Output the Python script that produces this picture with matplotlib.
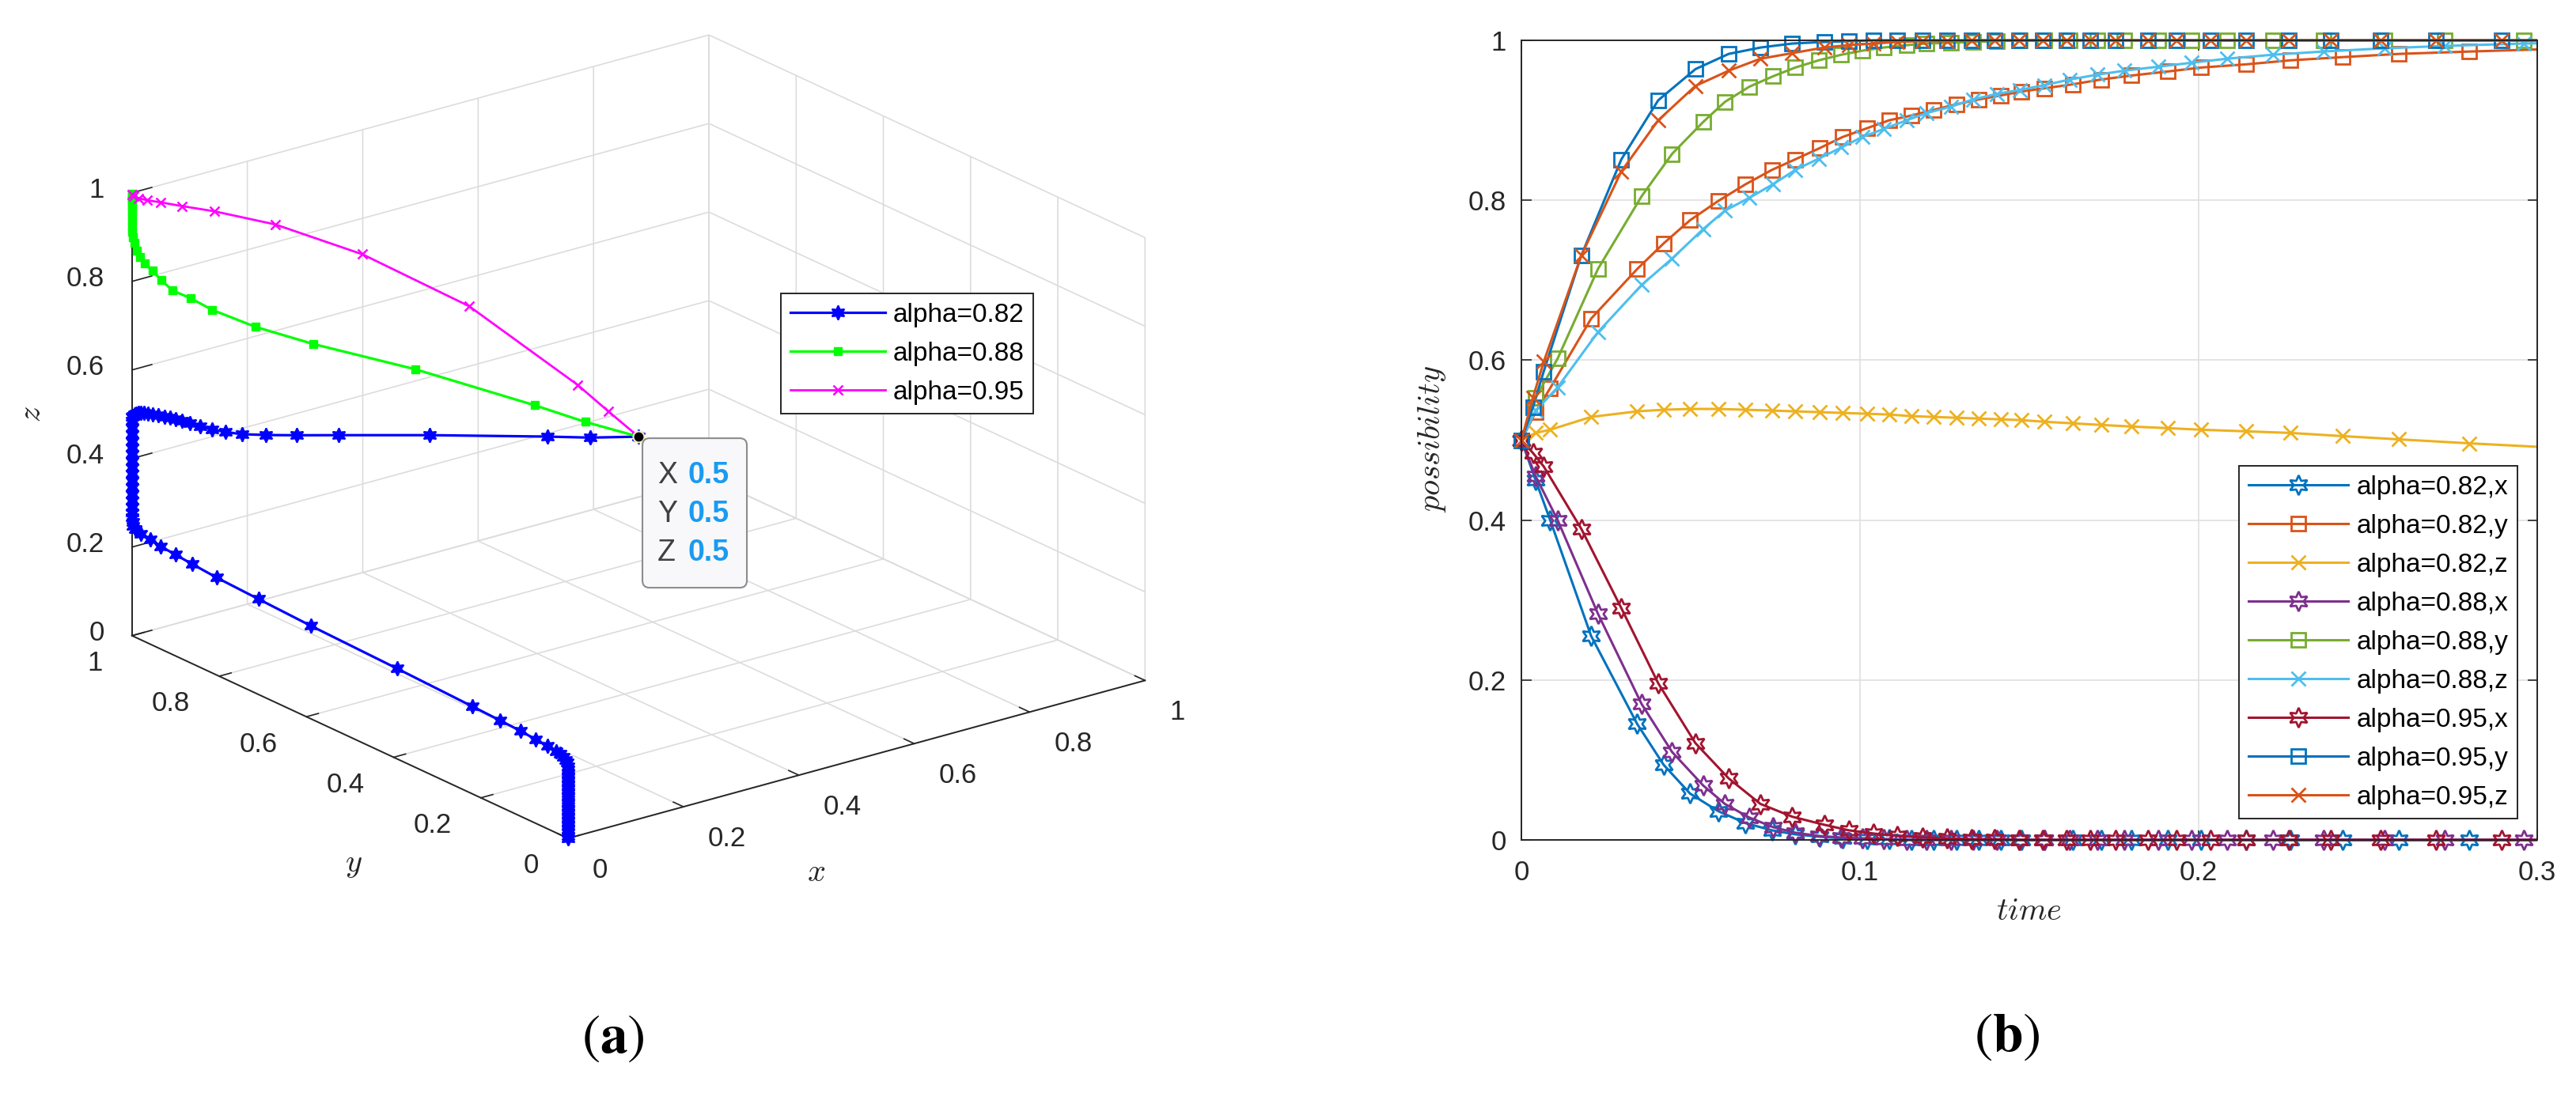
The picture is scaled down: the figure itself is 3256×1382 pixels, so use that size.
import numpy as np
import matplotlib
matplotlib.use("Agg")
import matplotlib.pyplot as plt
from matplotlib.patches import FancyBboxPatch
from matplotlib.transforms import IdentityTransform, Bbox, TransformedBbox
from mpl_toolkits.mplot3d import proj3d

plt.rcParams["font.family"] = ["Liberation Sans", "DejaVu Sans"]
plt.rcParams["mathtext.fontset"] = "cm"
plt.rcParams["grid.color"] = "#dcdcdc"
plt.rcParams["grid.linewidth"] = 1.2
plt.rcParams["xtick.color"] = "#262626"
plt.rcParams["ytick.color"] = "#262626"
plt.rcParams["axes.edgecolor"] = "#262626"

W, H = 3256, 1382
INK = "#262626"
HEX = (6, 1, 0)  # six-pointed star ~ MATLAB hexagram

# ---------------- (a) 3-D trajectories ----------------
# alpha = 0.82
x3_82 = [0.5, 0.4525, 0.410, 0.2938, 0.204, 0.1624, 0.1325, 0.109, 0.0921, 0.0791,
         0.0674, 0.057, 0.0492, 0.0429, 0.0375, 0.032, 0.0258, 0.0203, 0.0156, 0.0117,
         0.0086, 0.0062, 0.0039, 0.0023, 0.001,
         0, 0, 0, 0, 0, 0, 0, 0, 0, 0, 0, 0, 0, 0, 0, 0, 0, 0, 0, 0,
         0, 0, 0, 0, 0, 0, 0, 0, 0, 0, 0, 0, 0, 0, 0, 0, 0, 0, 0,
         0, 0, 0, 0, 0, 0, 0, 0, 0, 0, 0, 0, 0, 0, 0, 0, 0, 0, 0, 0]
y3_82 = [0.5, 0.5475, 0.590, 0.7062, 0.796, 0.8376, 0.8675, 0.891, 0.9079, 0.9209,
         0.9326, 0.943, 0.9508, 0.9571, 0.9625, 0.968, 0.9742, 0.9797, 0.9844, 0.9883,
         0.9914, 0.9938, 0.9961, 0.9977, 0.999,
         0.9995, 0.9995, 0.9995, 0.9995, 0.9995, 0.9995, 0.9995, 0.9995, 0.9995, 0.9995,
         0.9995, 0.9995, 0.9995, 0.9995, 0.9995, 0.9995, 0.999, 0.998, 0.997, 0.993,
         0.9795, 0.9574, 0.934, 0.9007, 0.8626, 0.8053, 0.7102, 0.5893, 0.3926, 0.2201,
         0.1566, 0.1083, 0.075, 0.0477, 0.0267, 0.018, 0.011, 0.0054, 0.002,
         0, 0, 0, 0, 0, 0, 0, 0, 0, 0, 0, 0, 0, 0, 0, 0, 0, 0, 0, 0]
z3_82 = [0.5, 0.493, 0.491, 0.4825, 0.4734, 0.469, 0.4665, 0.466, 0.469, 0.4745,
         0.480, 0.485, 0.4898, 0.4928, 0.4957, 0.497, 0.500, 0.5012, 0.5025, 0.5035,
         0.5035, 0.503, 0.5013, 0.4993, 0.497,
         0.494, 0.485, 0.470, 0.455, 0.440, 0.425, 0.410, 0.395, 0.380, 0.365,
         0.350, 0.335, 0.320, 0.305, 0.290, 0.278, 0.267, 0.257, 0.249, 0.244,
         0.240, 0.2366, 0.232, 0.2285, 0.225, 0.220, 0.2155, 0.210, 0.204, 0.1975,
         0.195, 0.1925, 0.1895, 0.1865, 0.184, 0.182, 0.179, 0.175, 0.170,
         0.163, 0.155, 0.146, 0.137, 0.128, 0.119, 0.110, 0.101, 0.092, 0.083,
         0.074, 0.065, 0.056, 0.047, 0.038, 0.029, 0.020, 0.012, 0.005, 0.0]
# alpha = 0.88
x3_88 = [0.5, 0.4473, 0.3974, 0.2795, 0.1793, 0.122, 0.0791, 0.0583, 0.040, 0.0289,
         0.0201, 0.0127, 0.008, 0.0049, 0.0023, 0.0008, 0.0002, 0, 0, 0,
         0, 0, 0, 0, 0, 0, 0, 0]
y3_88 = [0.5, 0.5527, 0.6026, 0.7205, 0.8207, 0.878, 0.9209, 0.9417, 0.960, 0.9711,
         0.9799, 0.9873, 0.992, 0.9951, 0.9977, 0.9992, 0.9998, 1, 1, 1,
         1, 1, 1, 1, 1, 1, 1, 1]
z3_88 = [0.5, 0.528, 0.5606, 0.630, 0.6766, 0.7096, 0.7438, 0.7675, 0.7835, 0.806,
         0.826, 0.8415, 0.856, 0.8705, 0.888, 0.900, 0.912, 0.924, 0.9356, 0.946,
         0.956, 0.9655, 0.973, 0.980, 0.986, 0.991, 0.995, 0.998]
# alpha = 0.95
x3_95 = [0.5, 0.4702, 0.44, 0.3328, 0.2274, 0.1415, 0.0812, 0.0492, 0.0283, 0.0148,
         0.0062, 0.002, 0]
y3_95 = [0.5, 0.5298, 0.56, 0.6672, 0.7726, 0.8585, 0.9188, 0.9508, 0.9717, 0.9852,
         0.9938, 0.998, 1.0]
z3_95 = [0.5, 0.5542, 0.6107, 0.7777, 0.8843, 0.9429, 0.9666, 0.9751, 0.9814, 0.9848,
         0.9887, 0.992, 0.996]

ticks3 = [0, 0.2, 0.4, 0.6, 0.8, 1]
tick3_labels = ["0", "0.2", "0.4", "0.6", "0.8", "1"]

# ---------------- (b) time series ----------------
t_82 = [0, 0.0042, 0.0085, 0.0206, 0.0342, 0.0420, 0.0498, 0.0581, 0.0662, 0.0740,
        0.0808, 0.0880, 0.0948, 0.1020, 0.1086, 0.1152, 0.1217, 0.1284, 0.1350, 0.1415,
        0.1477, 0.1545, 0.1628, 0.1712, 0.1802, 0.1908, 0.2008, 0.2141, 0.2271, 0.2426,
        0.2590, 0.2800, 0.3030]
x_82 = [0.500, 0.450, 0.400, 0.255, 0.145, 0.094, 0.058, 0.036, 0.021, 0.012,
        0.007, 0.004, 0.002, 0.001, 0.001, 0, 0, 0, 0, 0,
        0, 0, 0, 0, 0, 0, 0, 0, 0, 0,
        0, 0, 0]
y_82 = [0.500, 0.535, 0.565, 0.652, 0.714, 0.746, 0.775, 0.799, 0.820, 0.838,
        0.851, 0.865, 0.879, 0.890, 0.900, 0.906, 0.913, 0.920, 0.926, 0.931,
        0.936, 0.940, 0.945, 0.951, 0.956, 0.961, 0.966, 0.970, 0.975, 0.979,
        0.983, 0.986, 0.989]
z_82 = [0.500, 0.509, 0.513, 0.529, 0.536, 0.538, 0.539, 0.539, 0.538, 0.537,
        0.536, 0.535, 0.534, 0.533, 0.532, 0.530, 0.529, 0.528, 0.527, 0.526,
        0.525, 0.523, 0.521, 0.519, 0.517, 0.515, 0.513, 0.511, 0.509, 0.505,
        0.501, 0.496, 0.491]

t_88 = [0, 0.0042, 0.0107, 0.0226, 0.0355, 0.0445, 0.0537, 0.0601, 0.0673, 0.0743,
        0.0809, 0.0878, 0.0945, 0.1006, 0.1069, 0.1138, 0.1196, 0.1268, 0.1333, 0.1404,
        0.1472, 0.1545, 0.1620, 0.1700, 0.1780, 0.1880, 0.1980, 0.2083, 0.2220, 0.2368,
        0.2548, 0.2727, 0.2960, 0.3200]
x_88 = [0.500, 0.455, 0.400, 0.283, 0.170, 0.110, 0.068, 0.045, 0.028, 0.016,
        0.009, 0.005, 0.003, 0.002, 0.001, 0, 0, 0, 0, 0,
        0, 0, 0, 0, 0, 0, 0, 0, 0, 0,
        0, 0, 0, 0]
y_88 = [0.500, 0.553, 0.602, 0.714, 0.805, 0.858, 0.898, 0.923, 0.942, 0.955,
        0.966, 0.975, 0.982, 0.987, 0.991, 0.994, 0.996, 0.997, 0.998, 0.999,
        1, 1, 1, 1, 1, 1, 1, 1, 1, 1,
        1, 1, 1, 1]
z_88 = [0.500, 0.537, 0.566, 0.635, 0.694, 0.727, 0.764, 0.787, 0.803, 0.820,
        0.838, 0.852, 0.866, 0.879, 0.889, 0.900, 0.909, 0.917, 0.926, 0.933,
        0.938, 0.944, 0.951, 0.957, 0.962, 0.967, 0.972, 0.977, 0.982, 0.986,
        0.990, 0.993, 0.996, 0.998]

t_95 = [0, 0.0034, 0.0066, 0.0177, 0.0295, 0.0404, 0.0514, 0.0612, 0.0706, 0.0800,
        0.0894, 0.0967, 0.1040, 0.1110, 0.1185, 0.1256, 0.1330, 0.1397, 0.1470, 0.1540,
        0.1610, 0.1680, 0.1755, 0.1850, 0.1934, 0.2035, 0.2140, 0.2267, 0.2390, 0.2537,
        0.2700, 0.2896, 0.3100]
x_95 = [0.500, 0.484, 0.467, 0.389, 0.290, 0.196, 0.121, 0.077, 0.045, 0.029,
        0.019, 0.012, 0.008, 0.005, 0.003, 0.002, 0.001, 0.001, 0, 0,
        0, 0, 0, 0, 0, 0, 0, 0, 0, 0,
        0, 0, 0]
y_95 = [0.500, 0.541, 0.586, 0.731, 0.851, 0.925, 0.964, 0.983, 0.991, 0.996,
        0.998, 0.999, 1, 1, 1, 1, 1, 1, 1, 1,
        1, 1, 1, 1, 1, 1, 1, 1, 1, 1,
        1, 1, 1]
z_95 = [0.500, 0.553, 0.598, 0.731, 0.836, 0.900, 0.943, 0.962, 0.977, 0.984,
        0.991, 0.994, 0.996, 0.998, 0.999, 0.999, 1, 1, 1, 1,
        1, 1, 1, 1, 1, 1, 1, 1, 1, 1,
        1, 1, 1]

xt2 = [0, 0.1, 0.2, 0.3]
xt2_labels = ["0", "0.1", "0.2", "0.3"]
yt2 = [0, 0.2, 0.4, 0.6, 0.8, 1]
yt2_labels = ["0", "0.2", "0.4", "0.6", "0.8", "1"]

fig = plt.figure(figsize=(W / 100, H / 100), dpi=100)


def put(px, py, s, **kw):
    # text at pixel position, y measured from the top
    return fig.text(px / W, 1 - py / H, s, **kw)


# ================= (a) =================
ax3 = fig.add_axes([0.02, 0.1, 0.4, 0.8], projection="3d", computed_zorder=False)
ax3.set_proj_type("ortho")
ax3.set_box_aspect((1, 0.985, 0.652))
ax3.view_init(elev=20.9, azim=-127.5)

ax3.plot(x3_82, y3_82, z3_82, color="#0000ff", lw=2.3, marker=HEX, ms=13,
         mfc="#0000ff", mec="#0000ff", mew=1.5, label="alpha=0.82")
ax3.plot(x3_88, y3_88, z3_88, color="#00ff00", lw=2.3, marker="s", ms=7.5,
         mfc="#00ff00", mec="#00ff00", mew=1, label="alpha=0.88")
ax3.plot(x3_95, y3_95, z3_95, color="#ff00ff", lw=2.0, marker="x", ms=8,
         mew=1.8, label="alpha=0.95")
# data tip point
ax3.plot([x3_82[0]], [y3_82[0]], [z3_82[0]], ls="none", marker="o", ms=10,
         mfc="black", mec="#f3efc0", mew=1.5)

ax3.set_xlim(0, 1)
ax3.set_ylim(0, 1)
ax3.set_zlim(0, 1)
ax3.set_xticks(ticks3)
ax3.set_yticks(ticks3)
ax3.set_zticks(ticks3)
ax3.set_xticklabels([])
ax3.set_yticklabels([])
ax3.set_zticklabels([])
ax3.patch.set_alpha(0)
for axis, outf in ((ax3.xaxis, 0.29), (ax3.yaxis, 0.26), (ax3.zaxis, 0.43)):
    axis.set_pane_color((1, 1, 1, 0))
    axis.pane.set_edgecolor((1, 1, 1, 0))
    axis.line.set_color(INK)
    axis.line.set_linewidth(1.4)
    axis._axinfo["tick"]["inward_factor"] = 0.0
    axis._axinfo["tick"]["outward_factor"] = outf
    axis._axinfo["tick"]["linewidth"] = {True: 1.2, False: 0.6}
    axis._axinfo["grid"]["color"] = "#dcdcdc"
    axis._axinfo["grid"]["linewidth"] = 1.2

# fit the projected cube to where the reference draws it (pixels, y down)
corner_pts = np.array([(0, 0, 0), (1, 0, 0), (0, 1, 0), (0, 0, 1)], float)
corner_tgt = np.array([(718, 1060), (1448, 860), (167, 803), (718, 501)], float)


def px3(x, y, z):
    xs, ys, _ = proj3d.proj_transform(np.atleast_1d(x), np.atleast_1d(y),
                                      np.atleast_1d(z), ax3.get_proj())
    p = ax3.transData.transform(np.column_stack([xs, ys]))
    return p[:, 0], H - p[:, 1]


for _ in range(3):
    fig.canvas.draw()
    cx, cy = px3(*corner_pts.T)
    cur = np.column_stack([cx, cy])
    k = (np.linalg.norm(corner_tgt[1:] - corner_tgt[0], axis=1).sum()
         / np.linalg.norm(cur[1:] - cur[0], axis=1).sum())
    bb = ax3.get_position()
    x0, y0, side = bb.x0 * W, (1 - bb.y1) * H, bb.width * W
    nx0 = corner_tgt[0, 0] - k * (cur[0, 0] - x0)
    ny0 = corner_tgt[0, 1] - k * (cur[0, 1] - y0)
    ns = side * k
    ax3.set_position([nx0 / W, 1 - (ny0 + ns) / H, ns / W, ns / H])
fig.canvas.draw()

tick_kw = dict(fontsize=25, color=INK)
for v, lab in zip(ticks3, tick3_labels):
    px, py = px3(0, 1, v)
    put(px[0] - 35, py[0] - 3, lab, ha="right", va="center", **tick_kw)
    px, py = px3(0, v, 0)
    put(px[0] - 37, py[0] + 35, lab, ha="right", va="center", **tick_kw)
    px, py = px3(v, 0, 0)
    put(px[0] + 31, py[0] + 40, lab, ha="left", va="center", **tick_kw)

put(40, 524, r"$z$", fontsize=29, rotation=90, ha="center", va="center", color=INK)
put(447, 1093, r"$y$", fontsize=29, ha="center", va="center", color=INK)
put(1032, 1103, r"$x$", fontsize=29, ha="center", va="center", color=INK)

leg3 = ax3.legend(loc="upper left", bbox_to_anchor=(987 / W, 1 - 371 / H),
                  bbox_transform=fig.transFigure, borderaxespad=0, fontsize=24,
                  handlelength=3.6, handletextpad=0.3, labelspacing=0.54,
                  borderpad=0.35, fancybox=False, framealpha=1, edgecolor=INK)
leg3.get_frame().set_linewidth(1.4)

# data tip box
p0x, p0y = px3(x3_82[0], y3_82[0], z3_82[0])
p0x, p0y = p0x[0], p0y[0]
tip = FancyBboxPatch((p0x + 5, H - (p0y + 191)), 132, 189,
                     boxstyle="round,pad=0,rounding_size=9",
                     transform=IdentityTransform(), facecolor="#f8f8fa",
                     edgecolor="#8c8c8c", linewidth=1.5, zorder=5)
fig.add_artist(tip)
for i, (nm, val) in enumerate(zip(["X", "Y", "Z"],
                                  [x3_82[0], y3_82[0], z3_82[0]])):
    yy = p0y + 49 + 49 * i
    put(p0x + 24, yy, nm, fontsize=27, color="#404040", ha="left", va="center", zorder=6)
    put(p0x + 62, yy, f"{val:g}", fontsize=27, color="#1a9bf0", fontweight="bold",
        ha="left", va="center", zorder=6)

# ================= (b) =================
ax = fig.add_axes([1923 / W, (H - 1062) / H, 1284 / W, 1011 / H])
series = [
    (t_82, x_82, "alpha=0.82,x", "#0072BD", HEX),
    (t_82, y_82, "alpha=0.82,y", "#D95319", "s"),
    (t_82, z_82, "alpha=0.82,z", "#EDB120", "x"),
    (t_88, x_88, "alpha=0.88,x", "#7E2F8E", HEX),
    (t_88, y_88, "alpha=0.88,y", "#77AC30", "s"),
    (t_88, z_88, "alpha=0.88,z", "#4DBEEE", "x"),
    (t_95, x_95, "alpha=0.95,x", "#A2142F", HEX),
    (t_95, y_95, "alpha=0.95,y", "#0072BD", "s"),
    (t_95, z_95, "alpha=0.95,z", "#D95319", "x"),
]
msize = {HEX: 18, "s": 13.5, "x": 13}
clip = TransformedBbox(Bbox([[-0.03, -0.03], [1.0, 1.03]]), ax.transAxes)
for t, v, lab, c, m in series:
    ln, = ax.plot(t, v, color=c, lw=2.2, marker=m, ms=msize[m], mfc="none",
                  mec=c, mew=2.0, label=lab)
    ln.set_clip_box(clip)

ax.set_xlim(0, 0.3)
ax.set_ylim(0, 1)
ax.set_xticks(xt2)
ax.set_xticklabels(xt2_labels)
ax.set_yticks(yt2)
ax.set_yticklabels(yt2_labels)
ax.grid(True, color="#dfdfdf", lw=1.2)
ax.set_axisbelow(True)
ax.tick_params(direction="in", length=9, width=1.2, top=True, right=True,
               labelsize=25, colors=INK)
ax.tick_params(axis="x", pad=18)
ax.tick_params(axis="y", pad=14)
for sp in ax.spines.values():
    sp.set_linewidth(1.4)
    sp.set_color(INK)

put(1810, 555, r"$possibility$", fontsize=29, rotation=90, ha="center", va="center",
    color=INK)
put(2565, 1152, r"$time$", fontsize=29, ha="center", va="center", color=INK)

leg = ax.legend(loc="upper left", bbox_to_anchor=(2830 / W, 1 - 589 / H),
                bbox_transform=fig.transFigure, borderaxespad=0, fontsize=24,
                handlelength=3.8, handletextpad=0.3, labelspacing=0.54,
                borderpad=0.35, fancybox=False, framealpha=1, edgecolor=INK)
leg.get_frame().set_linewidth(1.4)

# panel captions
put(775, 1313, r"$(\mathbf{a})$", fontsize=50, math_fontfamily="stix",
    ha="center", va="center", color="black")
put(2537, 1311, r"$(\mathbf{b})$", fontsize=50, math_fontfamily="stix",
    ha="center", va="center", color="black")

fig.savefig("out.png", dpi=100, facecolor="white")
